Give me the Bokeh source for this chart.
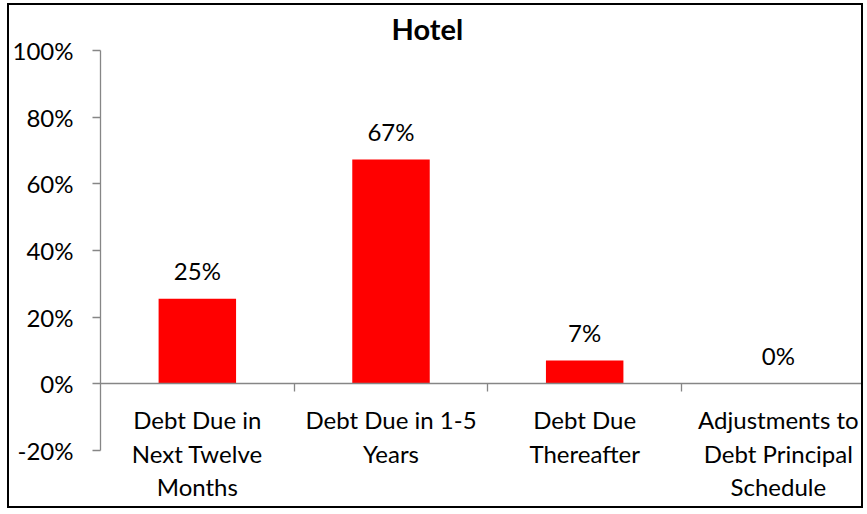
from bokeh.plotting import figure
from bokeh.models import (ColumnDataSource, LabelSet, FixedTicker, Range1d,
                          NumeralTickFormatter)
from bokeh.core.properties import value
from bokeh.embed import file_html
from bokeh.resources import INLINE

# ---- data ----
categories = ["Debt Due in\nNext Twelve\nMonths",
              "Debt Due in 1-5\nYears",
              "Debt Due\nThereafter",
              "Adjustments to\nDebt Principal\nSchedule"]
values = [0.255, 0.673, 0.07, 0.0]
value_labels = ["25%", "67%", "7%", "0%"]
y_ticks = [-0.2, 0.0, 0.2, 0.4, 0.6, 0.8, 1.0]
title_text = "Hotel"

FONT = "Lato"
AXIS_GRAY = "#868686"

n = len(categories)
centers = [i + 0.5 for i in range(n)]
boundaries = [float(i) for i in range(1, n)]

p = figure(width=856, height=505, output_backend="svg", toolbar_location=None,
           x_range=Range1d(0, 3.95), y_range=Range1d(-0.38, y_ticks[-1]),
           min_border_left=90, min_border_right=0, min_border_top=45,
           min_border_bottom=0)
p.styles = {"border": "2px solid black", "margin-left": "7px", "margin-top": "3px"}
p.outline_line_color = None
p.background_fill_color = "white"
p.border_fill_color = "white"
p.xgrid.visible = False
p.ygrid.visible = False

# title
p.title.text = title_text
p.title.text_font = FONT
p.title.text_font_style = "bold"
p.title.text_font_size = "29px"
p.title.text_color = "black"
p.title.align = "left"
p.title.vertical_align = "top"
p.title.offset = 291
p.title.standoff = 6

src = ColumnDataSource(dict(x=centers, top=values, lab=value_labels))
p.vbar(x="x", top="top", width=0.4, source=src, fill_color="#FF0000", line_color=None)

# y axis
yax = p.yaxis[0]
yax.ticker = FixedTicker(ticks=y_ticks)
yax.bounds = (y_ticks[0], y_ticks[-1])
yax.formatter = NumeralTickFormatter(format="0%")
yax.axis_line_color = AXIS_GRAY
yax.axis_line_width = 1.3
yax.major_tick_line_color = AXIS_GRAY
yax.major_tick_line_width = 1.3
yax.major_tick_out = 8
yax.major_tick_in = 0
yax.minor_tick_line_color = None
yax.major_label_text_font = FONT
yax.major_label_text_font_size = "24px"
yax.major_label_text_color = "black"
yax.major_label_standoff = 19

# x axis located at y=0
xax = p.xaxis[0]
xax.fixed_location = 0
xax.ticker = FixedTicker(ticks=centers, minor_ticks=boundaries)
xax.major_label_overrides = {c: "" for c in centers}
xax.major_label_text_font_size = "1px"
xax.major_label_standoff = 0
xax.axis_line_color = AXIS_GRAY
xax.axis_line_width = 1.3
xax.major_tick_line_color = None
xax.minor_tick_line_color = AXIS_GRAY
xax.minor_tick_line_width = 1.3
xax.minor_tick_out = 8
xax.minor_tick_in = 0

# category labels, one centred line at a time
split = [c.split("\n") for c in categories]
max_lines = max(len(s) for s in split)
for k in range(max_lines):
    xs = [centers[i] for i, s in enumerate(split) if len(s) > k]
    txt = [s[k] for s in split if len(s) > k]
    line_src = ColumnDataSource(dict(x=xs, y=[0.0] * len(xs), t=txt))
    p.add_layout(LabelSet(x="x", y="y", text="t", source=line_src,
                          y_offset=-45.5 - 33.5 * k,
                          text_align="center", text_baseline="alphabetic",
                          text_font=value(FONT), text_font_size=value("24px"),
                          text_color="black"))

# value labels
p.add_layout(LabelSet(x="x", y="top", text="lab", source=src, y_offset=19,
                      text_align="center", text_baseline="alphabetic",
                      text_font=value(FONT), text_font_size=value("24px"),
                      text_color="black"))

open("out.html", "w").write(file_html(p, INLINE))
